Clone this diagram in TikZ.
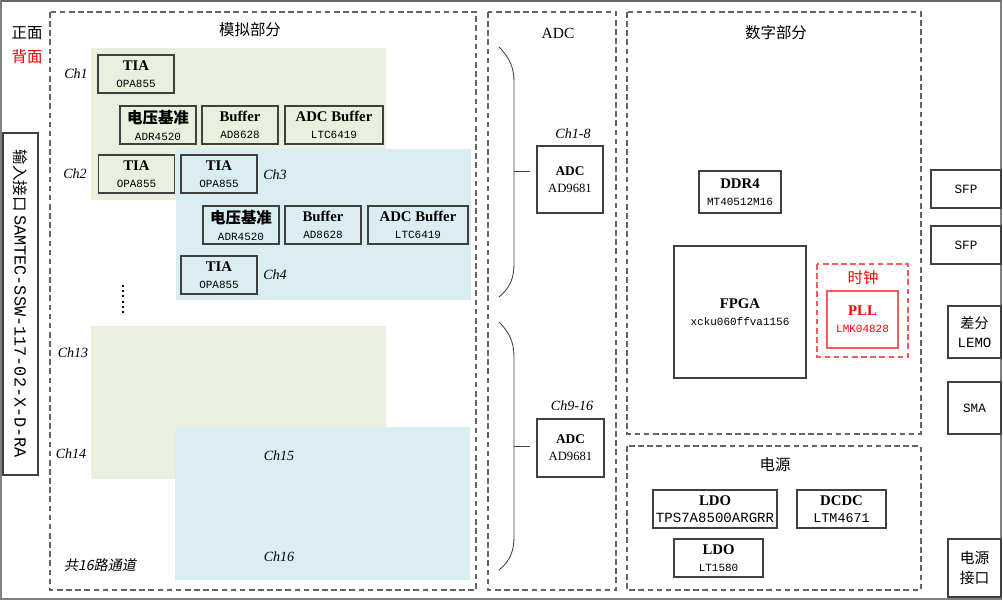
\documentclass[tikz,border=0pt]{standalone}
\usepackage{fontspec}
\setmainfont{Liberation Serif}
\setmonofont{Liberation Mono}
\newfontfamily\cjk{Noto Sans CJK SC}
\newfontfamily\cjkit[FakeSlant=0.2]{Noto Sans CJK SC}
\usetikzlibrary{calc}
\definecolor{bggreen}{RGB}{234,240,222}
\definecolor{bgblue}{RGB}{218,237,243}
\definecolor{boxgray}{RGB}{64,64,64}
\definecolor{dashgray}{RGB}{100,100,100}
\definecolor{clkred}{RGB}{255,90,90}
\newcommand{\hdfont}{\bfseries\fontsize{10.5}{12}\selectfont}
\newcommand{\pnfont}{\ttfamily\fontsize{7.8}{9}\selectfont}
\tikzset{blk/.style={draw=boxgray,line width=.8pt,inner sep=0pt,align=center,font=\fontsize{9}{12}\selectfont,minimum width=1.9cm,minimum height=.95cm}}
\tikzset{grp/.style={draw=dashgray,line width=.8pt,dash pattern=on 4pt off 2.5pt}}
\tikzset{chl/.style={font=\itshape\fontsize{10}{12}\selectfont,inner sep=0pt}}
\tikzset{ttl/.style={font=\cjk\fontsize{11}{13}\selectfont,inner sep=0pt}}
\tikzset{brace/.style={draw=boxgray,line width=.6pt}}

\begin{document}
\begin{tikzpicture}[x=0.025cm,y=-0.025cm]
  \useasboundingbox (0,0) rectangle (1003,601);
  \draw[gray,line width=1pt] (1,1) rectangle (1001,599);
  \draw[gray!80!black,line width=1.2pt] (1,1) -- (1001,1);
  % front / back
  \node[ttl] (front) at (27,33) {正面};
  \node[ttl,text=red] (back) at (27,57) {背面};
  \node[blk,minimum width=8.55cm,minimum height=.875cm,rotate=-90] (input) at (20.5,304)
    {{\cjk\fontsize{11}{13}\selectfont 输入接口}\ {\ttfamily\fontsize{12}{13}\selectfont SAMTEC-SSW-117-02-X-D-RA}};

  % analog part
  \draw[grp] (50,12) rectangle (476,590);
  \node[ttl] (analog) at (250,30) {模拟部分};
  \fill[bggreen] (91,48) rectangle (386,200);
  \fill[bgblue] (176,149) rectangle (471,300);
  \fill[bggreen] (91,326) rectangle (386,479);
  \fill[bgblue] (175,427) rectangle (470,580);
  \node[blk] (tia1) at (136,74) {{\hdfont TIA}\\{\pnfont OPA855}};
  \node[blk] (ref1) at (158,125) {{\cjk\bfseries\fontsize{11}{13}\selectfont 电压基准}\\{\pnfont ADR4520}};
  \node[blk] (buf1) at (240,125) {{\hdfont Buffer}\\{\pnfont AD8628}};
  \node[blk,minimum width=2.45cm] (abuf1) at (334,125) {{\hdfont ADC Buffer}\\{\pnfont LTC6419}};
  \node[blk] (tia2) at (136.5,174) {{\hdfont TIA}\\{\pnfont OPA855}};
  \node[blk] (tia3) at (219,174) {{\hdfont TIA}\\{\pnfont OPA855}};
  \node[blk] (ref2) at (241,225) {{\cjk\bfseries\fontsize{11}{13}\selectfont 电压基准}\\{\pnfont ADR4520}};
  \node[blk] (buf2) at (323,225) {{\hdfont Buffer}\\{\pnfont AD8628}};
  \node[blk,minimum width=2.5cm] (abuf2) at (418,225) {{\hdfont ADC Buffer}\\{\pnfont LTC6419}};
  \node[blk] (tia4) at (219,275) {{\hdfont TIA}\\{\pnfont OPA855}};
  \node[chl] (ch1) at (76,74) {Ch1};
  \node[chl] (ch2) at (75,174) {Ch2};
  \node[chl] (ch3) at (275,175) {Ch3};
  \node[chl] (ch4) at (275,275) {Ch4};
  \foreach \d in {285,290,295,301,306,311}
    \fill (121.5,\d) rectangle +(2,2);
  \node[chl] (ch13) at (73,353) {Ch13};
  \node[chl] (ch14) at (71,454) {Ch14};
  \node[chl] (ch15) at (279,456) {Ch15};
  \node[chl] (ch16) at (279,557) {Ch16};
  \node[inner sep=0pt,font=\cjkit\fontsize{10}{12}\selectfont] (total) at (100,565) {共16路通道};

  % ADC
  \draw[grp] (488,12) rectangle (616,590);
  \node[inner sep=0pt,font=\fontsize{11}{13}\selectfont] (adcttl) at (558,33) {ADC};
  \draw[brace] (499,47) .. controls (510,58) and (514,68) .. (514,82) -- (514,264)
    .. controls (514,278) and (510,288) .. (499,297);
  \draw[brace] (499,322) .. controls (510,333) and (514,343) .. (514,357) -- (514,537)
    .. controls (514,551) and (510,561) .. (499,570);
  \coordinate (br1) at (514,171);
  \coordinate (br2) at (514,446);
  \node[blk,minimum width=1.65cm,minimum height=1.675cm] (adc1) at (570,179.5)
    {{\bfseries\fontsize{9.5}{11}\selectfont ADC}\\{\fontsize{9}{11}\selectfont AD9681}};
  \node[blk,minimum width=1.675cm,minimum height=1.45cm] (adc2) at (570.5,448)
    {{\bfseries\fontsize{9.5}{11}\selectfont ADC}\\{\fontsize{9}{11}\selectfont AD9681}};
  \node[chl] (ch18) at (573,134) {Ch1-8};
  \node[chl] (ch916) at (572,406) {Ch9-16};
  \draw[brace,shorten >=0.15cm] (br1) -- (br1 -| adc1.west);
  \draw[brace,shorten >=0.15cm] (br2) -- (br2 -| adc2.west);

  % digital part
  \draw[grp] (627,12) rectangle (921,434);
  \node[ttl] (digital) at (776,33) {数字部分};
  \node[blk,minimum width=2.05cm,minimum height=1.05cm] (ddr) at (740,192) {{\hdfont DDR4}\\{\pnfont MT40512M16}};
  \node[blk,minimum width=3.3cm,minimum height=3.3cm] (fpga) at (740,312) {{\hdfont FPGA}\\{\pnfont xcku060ffva1156}};
  \draw[grp,draw=clkred] (817,264) rectangle (908,357);
  \node[ttl,text=red] (clk) at (863,278) {时钟};
  \node[blk,draw=clkred,text=red,minimum width=1.775cm,minimum height=1.425cm] (pll) at (862.5,319.5)
    {{\hdfont PLL}\\{\pnfont LMK04828}};

  % power
  \draw[grp] (627,446) rectangle (921,590);
  \node[ttl] (power) at (775,465) {电源};
  \node[blk,minimum width=3.1cm] (ldo1) at (715,509) {{\hdfont LDO}\\{\ttfamily\fontsize{10}{11}\selectfont TPS7A8500ARGRR}};
  \node[blk,minimum width=2.225cm] (dcdc) at (841.5,509) {{\hdfont DCDC}\\{\ttfamily\fontsize{9.5}{11}\selectfont LTM4671}};
  \node[blk,minimum width=2.225cm] (ldo2) at (718.5,558) {{\hdfont LDO}\\{\pnfont LT1580}};

  % connectors on the right
  \node[blk,minimum width=1.75cm,font=\ttfamily\fontsize{9}{11}\selectfont] (sfp1) at (966,189) {SFP};
  \node[blk,minimum width=1.75cm,font=\ttfamily\fontsize{9}{11}\selectfont] (sfp2) at (966,245) {SFP};
  \node[blk,minimum width=1.325cm,minimum height=1.3cm,font=\fontsize{10}{14}\selectfont] (lemo) at (974.5,332)
    {{\cjk 差分}\\{\ttfamily LEMO}};
  \node[blk,minimum width=1.325cm,minimum height=1.3cm,font=\ttfamily\fontsize{9}{11}\selectfont] (sma) at (974.5,408) {SMA};
  \node[blk,minimum width=1.325cm,minimum height=1.45cm,font=\cjk\fontsize{10.5}{14}\selectfont] (pwrin) at (974.5,568)
    {电源\\接口};
\end{tikzpicture}
\end{document}
